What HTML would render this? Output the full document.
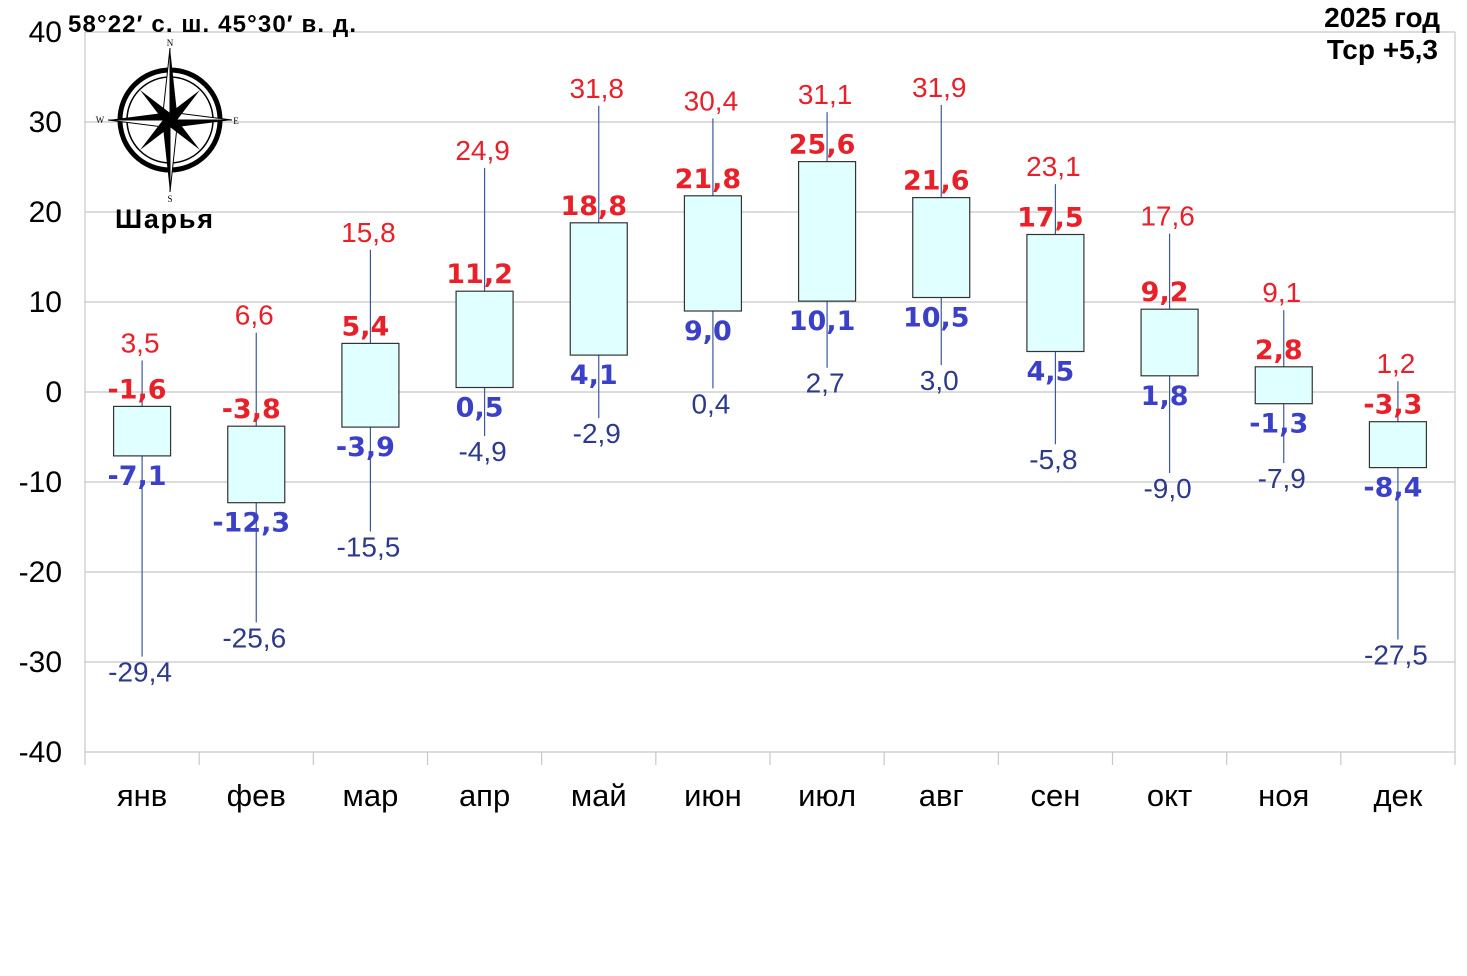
<!DOCTYPE html>
<html><head><meta charset="utf-8"><style>
body{margin:0;background:#fff;width:1467px;height:971px;overflow:hidden}
svg{font-family:"Liberation Sans",sans-serif}
</style></head><body>
<svg id="chart" width="1467" height="971">
<g id="grid"></g><g id="marks"></g><g id="labels"></g>
<text x="68" y="32" font-size="24" font-weight="bold" textLength="288">58°22′ с. ш. 45°30′ в. д.</text>
<text x="1440" y="27" font-size="28" font-weight="bold" text-anchor="end">2025 год</text>
<text x="1438" y="59" font-size="28" font-weight="bold" text-anchor="end">Тср +5,3</text>
<text x="115" y="228" font-size="27" font-weight="bold" textLength="98">Шарья</text>
<g transform="translate(170,120)">
<circle r="50" fill="none" stroke="#000" stroke-width="5"/>
<circle r="43" fill="none" stroke="#000" stroke-width="1.5"/>
<polygon points="0,-72 7,-7 0,0" fill="#000"/><polygon points="0,-72 -7,-7 0,0" fill="#fff" stroke="#000"/>
<polygon points="0,72 -7,7 0,0" fill="#000"/><polygon points="0,72 7,7 0,0" fill="#fff" stroke="#000"/>
<polygon points="-62,0 -7,-7 0,0" fill="#000"/><polygon points="-62,0 -7,7 0,0" fill="#fff" stroke="#000"/>
<polygon points="62,0 7,7 0,0" fill="#000"/><polygon points="62,0 7,-7 0,0" fill="#fff" stroke="#000"/>
<polygon points="-30,-30 4,-4 -4,4" fill="#000"/><polygon points="30,30 4,-4 -4,4" fill="#000"/>
<polygon points="30,-30 4,4 -4,-4" fill="#000"/><polygon points="-30,30 4,4 -4,-4" fill="#000"/>
<text x="0" y="-74" font-size="9" text-anchor="middle" font-family="Liberation Serif">N</text>
<text x="0" y="82" font-size="9" text-anchor="middle" font-family="Liberation Serif">S</text>
<text x="-70" y="3" font-size="9" text-anchor="middle" font-family="Liberation Serif">W</text>
<text x="66" y="4" font-size="9" text-anchor="middle" font-family="Liberation Serif">E</text>
</g>
</svg>
<script>
const months=["янв","фев","мар","апр","май","июн","июл","авг","сен","окт","ноя","дек"];
const absMax=[3.5,6.6,15.8,24.9,31.8,30.4,31.1,31.9,23.1,17.6,9.1,1.2];
const meanMax=[-1.6,-3.8,5.4,11.2,18.8,21.8,25.6,21.6,17.5,9.2,2.8,-3.3];
const meanMin=[-7.1,-12.3,-3.9,0.5,4.1,9.0,10.1,10.5,4.5,1.8,-1.3,-8.4];
const absMin=[-29.4,-25.6,-15.5,-4.9,-2.9,0.4,2.7,3.0,-5.8,-9.0,-7.9,-27.5];
const yTicks=[40,30,20,10,0,-10,-20,-30,-40];
const NS="http://www.w3.org/2000/svg";
const L=85,R=1455,T=32,B=752;
const y=v=>T+(40-v)*(B-T)/80;
const bw=(R-L)/months.length;
const x=i=>L+bw*(i+0.5);
const fmt=v=>v.toFixed(1).replace('.',',');
function mk(tag,attrs,parent,txt){const e=document.createElementNS(NS,tag);for(const k in attrs)e.setAttribute(k,attrs[k]);if(txt!==undefined)e.textContent=txt;document.getElementById(parent).appendChild(e);return e;}
yTicks.forEach(v=>{
 const g=mk('line',{x1:L,x2:R,y1:y(v),y2:y(v),stroke:'#c8c8c8','stroke-width':1.2},'grid');
 
 
 const t=mk('text',{x:62,y:y(v)+10,'font-size':30,'text-anchor':'end',fill:'#000'},'labels',String(v));
 
 
});
const ax=mk('line',{x1:L,x2:L,y1:T,y2:B,stroke:'#c8c8c8','stroke-width':1.2},'grid');


const ax2=mk('line',{x1:R,x2:R,y1:T,y2:B,stroke:'#c8c8c8','stroke-width':1.2},'grid');


for(let i=0;i<=months.length;i++){
 const tk=mk('line',{x1:L+bw*i,x2:L+bw*i,y1:B,y2:B+13,stroke:'#c8c8c8','stroke-width':1.2},'grid');
 
 
}
months.forEach((m,i)=>{
 const cx=x(i);
 const w=mk('line',{x1:cx,x2:cx,y1:y(absMax[i]),y2:y(absMin[i]),stroke:'#3a5a9a','stroke-width':1.2},'marks');
 
 
 const b=mk('rect',{x:cx-28.5,width:57,y:y(meanMax[i]),height:y(meanMin[i])-y(meanMax[i]),fill:'#e0ffff',stroke:'#333','stroke-width':1.2},'marks');
 
 
 const ml=mk('text',{x:cx,y:806,'font-size':31,'text-anchor':'middle'},'labels',m);
 
 
 const a=mk('text',{x:cx-2,y:y(absMax[i])-8,'font-size':28,'text-anchor':'middle',fill:'#e8202a'},'labels',fmt(absMax[i]));
 
 
 const c=mk('text',{x:cx-5,y:y(meanMax[i])-8,'font-size':27,'font-weight':'bold','font-family':'DejaVu Sans, sans-serif','text-anchor':'middle',fill:'#e8202a'},'labels',fmt(meanMax[i]));
 
 
 const d=mk('text',{x:cx-5,y:y(meanMin[i])+29,'font-size':27,'font-weight':'bold','font-family':'DejaVu Sans, sans-serif','text-anchor':'middle',fill:'#3b40c8'},'labels',fmt(meanMin[i]));
 
 
 const e=mk('text',{x:cx-2,y:y(absMin[i])+25,'font-size':28,'text-anchor':'middle',fill:'#2d3a8c'},'labels',fmt(absMin[i]));
 
 
});
</script>
</body></html>
